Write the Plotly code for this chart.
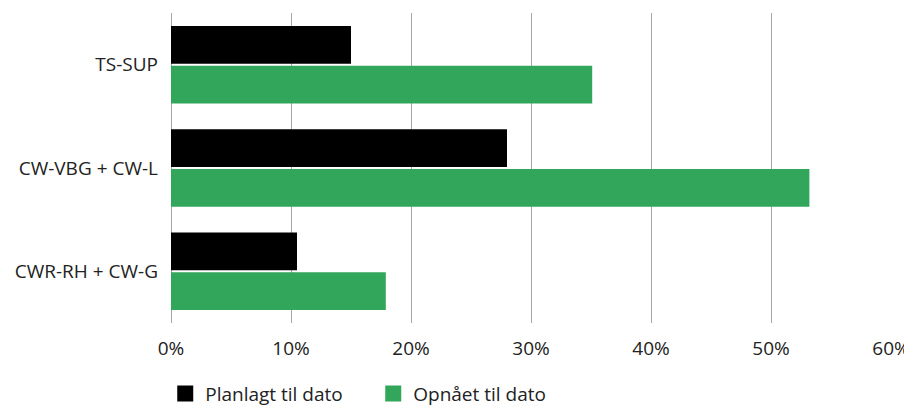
import plotly.graph_objects as go

categories = ["TS-SUP", "CW-VBG + CW-L", "CWR-RH + CW-G"]
planned = [15.0, 28.0, 10.5]
achieved = [35.1, 53.2, 17.9]
tick_vals = [0, 10, 20, 30, 40, 50, 60]
tick_text = ["0%", "10%", "20%", "30%", "40%", "50%", "60%"]
series_names = ["Planlagt til dato", "Opnået til dato"]
colors = ["#000000", "#32a65a"]

FONT = "Open Sans"
TXT = "#222222"
fig = go.Figure()
fig.add_trace(go.Bar(y=categories, x=planned, orientation="h", name=series_names[0],
                     marker=dict(color=colors[0], line=dict(width=0)), showlegend=False))
fig.add_trace(go.Bar(y=categories, x=achieved, orientation="h", name=series_names[1],
                     marker=dict(color=colors[1], line=dict(width=0)), showlegend=False))
# legend entries (larger square keys)
for name, col in zip(series_names, colors):
    fig.add_trace(go.Scatter(x=[None], y=[None], mode="markers", name=name,
                             marker=dict(symbol="square", size=23, color=col, line=dict(width=0)),
                             showlegend=True, hoverinfo="skip"))

# page body has an 8px margin, so the figure is sized 904x398 and offset accordingly
fig.update_layout(
    width=904, height=398,
    margin=dict(l=163, r=21, t=5, b=83, autoexpand=False),
    paper_bgcolor="white", plot_bgcolor="white",
    barmode="group", bargap=0.23, bargroupgap=0.05,
    font=dict(family=FONT, size=19, color=TXT),
    showlegend=True,
    legend=dict(orientation="h", x=-0.008, xanchor="left", y=-0.167, yanchor="top",
                font=dict(size=19, color=TXT), entrywidth=163, entrywidthmode="pixels",
                itemsizing="trace", traceorder="normal"),
    xaxis=dict(range=[0, 60], tickvals=tick_vals, ticktext=tick_text,
               showgrid=True, gridcolor="#a6a6a6", gridwidth=1,
               zeroline=True, zerolinecolor="#a6a6a6", zerolinewidth=1,
               showline=False, ticks="", ticklabelstandoff=12, fixedrange=True,
               automargin=False),
    yaxis=dict(autorange="reversed", showgrid=False, zeroline=False, showline=False,
               ticks="", ticklabelstandoff=12, fixedrange=True, automargin=False),
)

fig.write_html("out.html")
